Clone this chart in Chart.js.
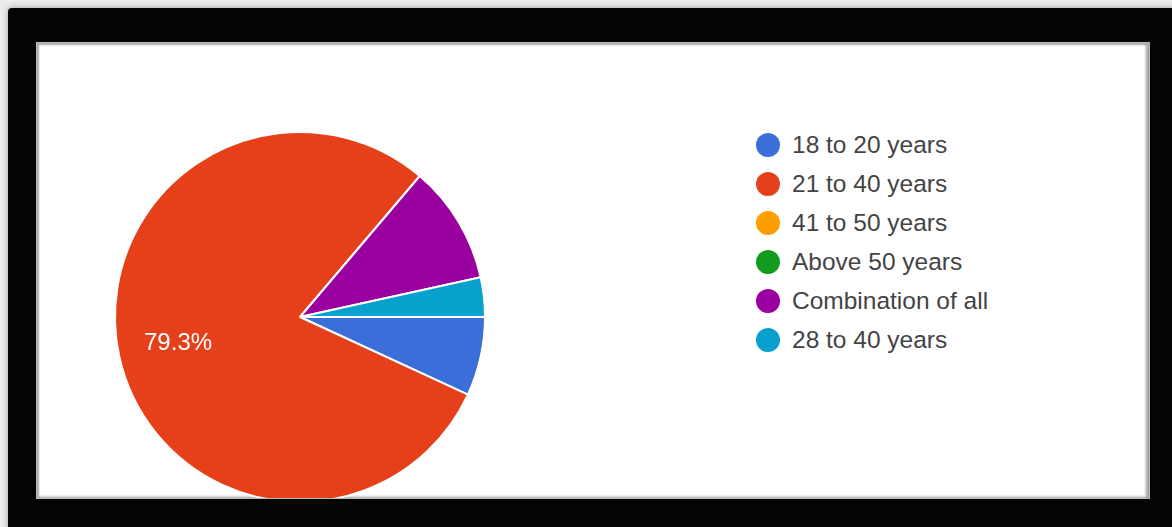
<!DOCTYPE html>
<html>
<head>
<meta charset="utf-8">
<script src="https://cdn.jsdelivr.net/npm/chart.js@4"></script>
<style>
  body {
    margin: 0;
    width: 1172px;
    height: 527px;
    overflow: hidden;
    background: #ececec;
    font-family: "Liberation Sans", Arial, sans-serif;
  }
  .frame {
    position: absolute;
    left: 8px;
    top: 8px;
    width: 1180px;
    height: 540px;
    background: #040404;
    border-radius: 4px 0 0 0;
    box-shadow: 0 0 6px rgba(0, 0, 0, 0.35);
  }
  .panel {
    position: absolute;
    left: 36px;
    top: 42px;
    width: 1114px;
    height: 457px;
    background: #fff;
    overflow: hidden;
    box-sizing: border-box;
    border: 1px solid #b8b8b8;
    box-shadow: inset 2px 2px 2px #a8a8a8, inset -3px -1px 3px #a0a0a0;
  }
  .pie-box {
    position: absolute;
    left: 53px;
    top: 64px;
    width: 420px;
    height: 420px;
  }
  #legend {
    position: absolute;
    left: 719px;
    top: 82px;
    margin: 0;
    padding: 0;
    list-style: none;
  }
  #legend li {
    display: flex;
    align-items: center;
    height: 39px;
    font-size: 24.5px;
    color: #444;
    white-space: nowrap;
  }
  #legend .dot {
    display: inline-block;
    width: 24px;
    height: 24px;
    border-radius: 50%;
    margin-right: 12px;
  }
</style>
</head>
<body>
<div class="frame"></div>
<div class="panel">
  <div class="pie-box"><canvas id="agePie"></canvas></div>
  <ul id="legend"></ul>
</div>
<script>
  const ageGroups = [
    "18 to 20 years",
    "21 to 40 years",
    "41 to 50 years",
    "Above 50 years",
    "Combination of all",
    "28 to 40 years",
  ];
  const responses = [2, 23, 0, 0, 3, 1];
  const sliceColors = ["#3b6ed8", "#e6401a", "#ff9e00", "#139b20", "#9a00a0", "#08a0cc"];

  // percentage text inside slices that are big enough
  const sliceLabels = {
    id: "sliceLabels",
    afterDatasetsDraw(chart) {
      const ctx = chart.ctx;
      const values = chart.data.datasets[0].data;
      const total = values.reduce((a, b) => a + b, 0);
      chart.getDatasetMeta(0).data.forEach((arc, i) => {
        const pct = (values[i] / total) * 100;
        if (pct < 15) return;
        const mid = (arc.startAngle + arc.endAngle) / 2;
        const r = arc.outerRadius * 0.675;
        ctx.save();
        ctx.fillStyle = "#fff";
        ctx.font = '24px "Liberation Sans", Arial, sans-serif';
        ctx.textAlign = "center";
        ctx.textBaseline = "middle";
        ctx.fillText(pct.toFixed(1) + "%", arc.x + Math.cos(mid) * r, arc.y + Math.sin(mid) * r);
        ctx.restore();
      });
    },
  };

  // legend rendered as a list next to the pie
  const htmlLegend = {
    id: "htmlLegend",
    afterUpdate(chart) {
      const list = document.getElementById("legend");
      list.innerHTML = "";
      const items = chart.options.plugins.legend.labels.generateLabels(chart);
      items.forEach((item) => {
        const li = document.createElement("li");
        const dot = document.createElement("span");
        dot.className = "dot";
        dot.style.background = item.fillStyle;
        li.appendChild(dot);
        li.appendChild(document.createTextNode(item.text));
        list.appendChild(li);
      });
    },
  };

  new Chart(document.getElementById("agePie"), {
    type: "pie",
    data: {
      labels: ageGroups,
      datasets: [
        {
          data: responses,
          backgroundColor: sliceColors,
          borderColor: "#fff",
          borderWidth: 2,
        },
      ],
    },
    options: {
      responsive: true,
      maintainAspectRatio: false,
      animation: false,
      rotation: 90,
      layout: { padding: 24 },
      plugins: {
        legend: { display: false },
        tooltip: { enabled: false },
      },
    },
    plugins: [sliceLabels, htmlLegend],
  });
</script>
</body>
</html>
